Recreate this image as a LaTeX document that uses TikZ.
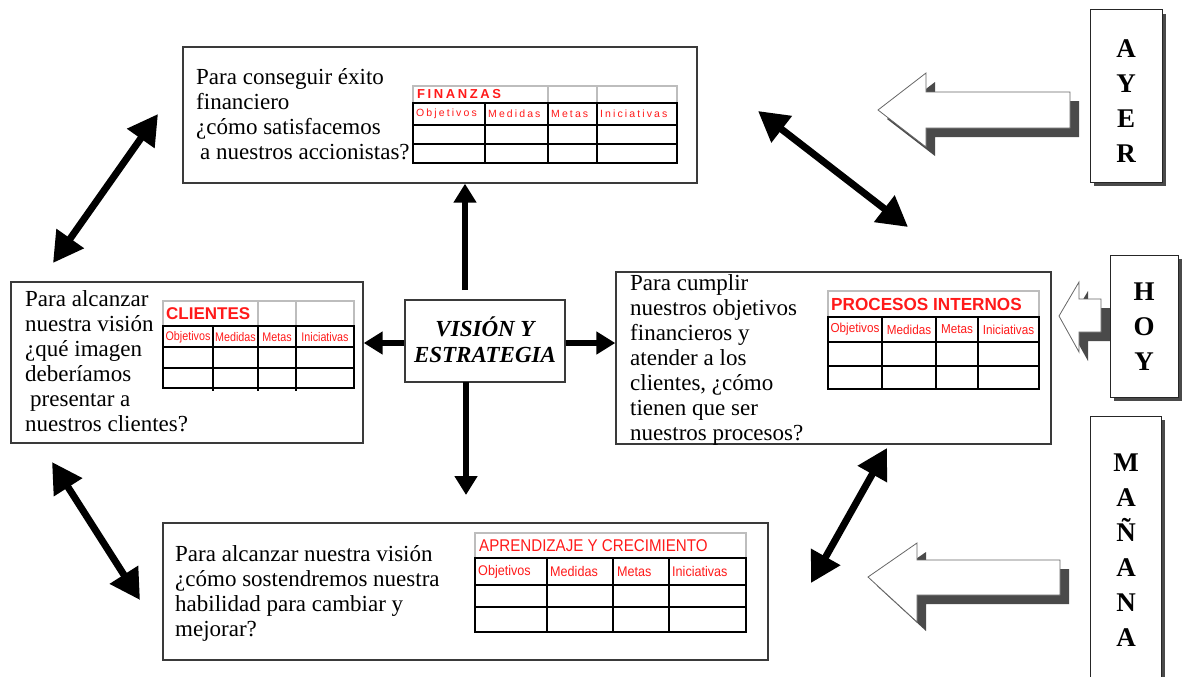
\documentclass[tikz,border=0pt]{standalone}
\usepackage{fontspec}
\usepackage{graphicx}
\setmainfont{Liberation Serif}
\newfontfamily\tsans{Liberation Sans}
\newfontfamily\tsanssp[LetterSpace=20]{Liberation Sans}
\usetikzlibrary{arrows.meta,shadows}
\definecolor{tred}{HTML}{FF1A1A}
\definecolor{hgray}{HTML}{BDBDBD}
\definecolor{bord}{HTML}{3A3A3A}
\definecolor{shad}{HTML}{4A4A4A}
\newcommand\narr[2]{\scalebox{#1}[1]{#2}}
\newcommand\blkarrow[8]{%
  \fill[shad,shift={(9,9)}] (#1,#2) -- (#3,#4) -- (#3,#5) -- (#8,#5) -- (#8,#6) -- (#3,#6) -- (#3,#7) -- cycle;
  \draw[blockarr] (#1,#2) -- (#3,#4) -- (#3,#5) -- (#8,#5) -- (#8,#6) -- (#3,#6) -- (#3,#7) -- cycle;}
\tikzset{
  mainbox/.style={draw=bord, line width=1.4pt, fill=white, inner sep=0pt},
  para/.style={anchor=north west, inner sep=0pt, align=left, font=\fontsize{23}{25}\selectfont},
  labbox/.style={draw=black!85, line width=1pt, fill=white, inner sep=0pt,
    drop shadow={shadow xshift=4pt, shadow yshift=-4pt, fill=shad, opacity=1}},
  labtxt/.style={align=center, inner sep=0pt, font=\bfseries\fontsize{27}{35}\selectfont},
  hdr/.style={draw=hgray, line width=1.3pt},
  tbl/.style={draw=black, line width=1.8pt},
  bigarrow/.style={line width=7pt, arrows={Triangle[length=30pt,width=32pt]-Triangle[length=30pt,width=32pt]}},
  carrow/.style={line width=6pt, arrows={-Triangle[length=19pt,width=22pt]}},
  blockarr/.style={fill=white, draw=black!60, line width=0.8pt},
  subA/.style={anchor=west, inner sep=0pt, text=tred, font=\tsanssp\fontsize{10.5}{12}\selectfont},
  subB/.style={inner sep=0pt, text=tred, font=\tsans\fontsize{12.5}{14}\selectfont},
  subP/.style={inner sep=0pt, text=tred, font=\tsans\fontsize{13}{15}\selectfont},
  subC/.style={anchor=west, inner sep=0pt, text=tred, font=\tsans\fontsize{14}{16}\selectfont},
}
\begin{document}
\begin{tikzpicture}[x=1pt,y=-1pt]
\useasboundingbox (0,0) rectangle (1183,677);

% ---------- main boxes ----------
\node[mainbox, minimum width=514pt, minimum height=136pt] (fin) at (440,115) {};
\node[mainbox, minimum width=352pt, minimum height=161pt] (cli) at (187,362.5) {};
\node[mainbox, minimum width=435pt, minimum height=172pt] (pro) at (833.5,358) {};
\node[mainbox, minimum width=605pt, minimum height=137pt] (apr) at (465.5,591.5) {};
\node[mainbox, minimum width=160pt, minimum height=82pt] (vis) at (485,341) {};
\node[inner sep=0pt, align=center, font=\bfseries\itshape\fontsize{23}{26}\selectfont] (vist) at (485,340) {VISIÓN Y\\ESTRATEGIA};

% ---------- paragraphs ----------
\node[para] (tfin) at (196,67) {\rule{0pt}{17pt}Para conseguir éxito\\financiero\\¿cómo satisfacemos\\\hspace*{4pt}a nuestros accionistas?};
\node[para] (tcli) at (25,289) {\rule{0pt}{17pt}Para alcanzar\\nuestra visión\\¿qué imagen\\deberíamos\\\hspace*{5pt}presentar a\\nuestros clientes?};
\node[para] (tpro) at (630,273) {\rule{0pt}{17pt}Para cumplir\\nuestros objetivos\\financieros y\\atender a los\\clientes, ¿cómo\\tienen que ser\\nuestros procesos?};
\node[para] (tapr) at (175,544) {\rule{0pt}{17pt}Para alcanzar nuestra visión\\¿cómo sostendremos nuestra\\habilidad para cambiar y\\mejorar?};

% ---------- FINANZAS table ----------
\draw[hdr] (413,86) rectangle (677,103) (548,86) -- (548,103) (597,86) -- (597,103);
\draw[tbl] (413,103) rectangle (677,163) (413,125) -- (677,125) (413,144) -- (677,144)
  (485,103) -- (485,163) (548,103) -- (548,163) (597,103) -- (597,163);
\node[anchor=west, inner sep=0pt, text=tred, font=\tsanssp\bfseries\fontsize{13}{15}\selectfont] (hfin) at (417,94.5) {FINANZAS};
\node[subA] (f1) at (416,114) {Objetivos};
\node[subA] (f2) at (488,114) {Medidas};
\node[subA] (f3) at (551,114) {Metas};
\node[subA] (f4) at (600,114) {Iniciativas};

% ---------- CLIENTES table ----------
\draw[hdr] (163,301) rectangle (354,326) (258,301) -- (258,326) (296,301) -- (296,326);
\draw[tbl] (163,326) rectangle (354,388) (163,347) -- (354,347) (163,368) -- (354,368)
  (213,326) -- (213,391) (258,326) -- (258,391) (296,326) -- (296,391);
\node[anchor=west, inner sep=0pt, text=tred, font=\tsans\bfseries\fontsize{17}{19}\selectfont] (hcli) at (166,313.5) {CLIENTES};
\node[subB] (c1) at (188,337) {\narr{0.86}{Objetivos}};
\node[subB] (c2) at (235.5,337) {\narr{0.86}{Medidas}};
\node[subB] (c3) at (277,337) {\narr{0.86}{Metas}};
\node[subB] (c4) at (325,337) {\narr{0.86}{Iniciativas}};

% ---------- PROCESOS table ----------
\draw[hdr] (828,291) rectangle (1039,317);
\draw[tbl] (828,317) rectangle (1039,389) (828,342) -- (1039,342) (828,366) -- (1039,366)
  (882,317) -- (882,389) (936,317) -- (936,389) (978,317) -- (978,389);
\node[anchor=west, inner sep=0pt, text=tred, font=\tsans\bfseries\fontsize{17.5}{19}\selectfont] (hpro) at (831,304) {\narr{0.98}{PROCESOS INTERNOS}};
\node[subP] (p1) at (855,329.5) {\narr{0.9}{Objetivos}};
\node[subP] (p2) at (909,329.5) {\narr{0.9}{Medidas}};
\node[subP] (p3) at (957,329.5) {\narr{0.9}{Metas}};
\node[subP] (p4) at (1008.5,329.5) {\narr{0.9}{Iniciativas}};

% ---------- APRENDIZAJE table ----------
\draw[hdr] (475,533) rectangle (746,558);
\draw[tbl] (475,558) rectangle (746,632) (475,585) -- (746,585) (475,607) -- (746,607)
  (547,558) -- (547,632) (613,558) -- (613,632) (669,558) -- (669,632);
\node[anchor=west, inner sep=0pt, text=tred, font=\tsans\fontsize{17}{19}\selectfont] (hapr) at (479,545.5) {\narr{0.89}{APRENDIZAJE Y CRECIMIENTO}};
\node[subC] (a1) at (478,571.5) {\narr{0.9}{Objetivos}};
\node[subC] (a2) at (550,571.5) {\narr{0.9}{Medidas}};
\node[subC] (a3) at (617,571.5) {\narr{0.9}{Metas}};
\node[subC] (a4) at (672,571.5) {\narr{0.9}{Iniciativas}};

% ---------- centre arrows ----------
\coordinate (vup) at (465,290);
\coordinate (vdn) at (466,382);
\coordinate (vdnend) at (466,495);
\draw[carrow] (vup) -- (vup |- fin.south);
\draw[carrow] (vdn) -- (vdnend);
\draw[carrow] ([yshift=-2pt]vis.west) -- ([yshift=-2pt]vis.west -| cli.east);
\draw[carrow] ([yshift=-2pt]vis.east) -- ([yshift=-2pt]vis.east -| pro.west);

% ---------- diagonal double arrows ----------
\coordinate (d1a) at (53,263);  \coordinate (d1b) at (158,114);
\coordinate (d2a) at (758,111); \coordinate (d2b) at (908,227);
\coordinate (d3a) at (52,462);  \coordinate (d3b) at (140,600);
\coordinate (d4a) at (887,448); \coordinate (d4b) at (811,583);
\draw[bigarrow] (d1a) -- (d1b);
\draw[bigarrow] (d2a) -- (d2b);
\draw[bigarrow] (d3a) -- (d3b);
\draw[bigarrow] (d4a) -- (d4b);

% ---------- block arrows ----------
\blkarrow{878}{110}{926}{73}{92}{128}{147}{1070}
\blkarrow{1059}{316}{1079}{282}{299}{332}{352}{1101}
\blkarrow{868}{577}{917}{543}{560}{595}{622}{1060}

% ---------- time labels ----------
\node[labbox, minimum width=72pt, minimum height=172pt] (ayer) at (1126,96) {};
\node[labtxt] (ayert) at (1126,101.5) {A\\Y\\E\\R};
\node[labbox, minimum width=68pt, minimum height=142pt] (hoy) at (1144,326) {};
\node[labtxt] (hoyt) at (1144,327) {H\\O\\Y};
\node[labbox, minimum width=71pt, minimum height=284pt] (man) at (1125.5,558) {};
\node[labtxt] (mant) at (1126,550) {M\\A\\Ñ\\A\\N\\A};
\end{tikzpicture}
\end{document}
